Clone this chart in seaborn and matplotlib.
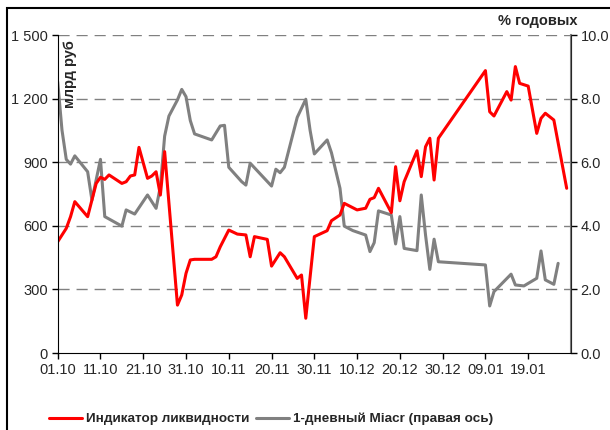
import pandas as pd
import seaborn as sns
import matplotlib.pyplot as plt
import matplotlib.dates as mdates
from matplotlib.ticker import FuncFormatter
from matplotlib.patches import Rectangle

start = pd.Timestamp("2008-10-01")

# liquidity indicator, bn rub (day offset from 01.10.2008)
liq_day = [0, 2, 3, 4, 7, 9, 10, 11, 12, 15, 16, 17, 18, 19, 21, 22, 23, 24, 25, 28,
           29, 30, 31, 32, 36, 37, 38, 40, 42, 44, 45, 46, 49, 50, 52, 53, 56, 57, 58, 60,
           63, 64, 66, 67, 70, 72, 73, 74, 75, 78, 79, 80, 81, 84, 85, 86, 87, 88, 89,
           100, 101, 102, 105, 106, 107, 108, 110, 112, 113, 114, 116, 119]
liq_val = [525, 588, 643, 714, 643, 800, 829, 819, 840, 800, 808, 835, 840, 970, 824, 835, 855, 745, 950, 226,
           274, 376, 439, 442, 442, 454, 501, 580, 561, 557, 454, 549, 536, 410, 473, 454, 352, 368, 164, 549,
           577, 624, 651, 706, 675, 683, 725, 733, 777, 662, 879, 718, 808, 954, 832, 973, 1013, 816, 1013,
           1332, 1138, 1118, 1233, 1193, 1351, 1272, 1259, 1036, 1107, 1131, 1099, 777]

# 1-day Miacr, % p.a.
miacr_day = [0, 1, 2, 3, 4, 7, 8, 10, 11, 15, 16, 18, 21, 23, 24, 25, 26, 28, 29, 30,
             31, 32, 36, 38, 39, 40, 43, 44, 45, 50, 51, 52, 53, 56, 58, 59, 60, 63, 64, 66,
             67, 69, 72, 73, 74, 75, 78, 79, 80, 81, 84, 85, 86, 87, 88, 89,
             100, 101, 102, 106, 107, 109, 112, 113, 114, 116, 117]
miacr_val = [8.53, 7.01, 6.09, 5.94, 6.20, 5.70, 4.81, 6.09, 4.29, 3.99, 4.50, 4.37, 4.97, 4.55, 5.23, 6.82, 7.45, 7.96, 8.29, 8.06,
             7.31, 6.89, 6.70, 7.14, 7.16, 5.84, 5.39, 5.28, 5.97, 5.25, 5.78, 5.67, 5.84, 7.41, 7.98, 7.01, 6.26, 6.70, 6.30, 5.18,
             3.99, 3.85, 3.71, 3.19, 3.47, 4.47, 4.34, 3.43, 4.29, 3.29, 3.22, 4.97, 3.71, 2.63, 3.58, 2.87,
             2.77, 1.48, 1.93, 2.48, 2.14, 2.11, 2.35, 3.21, 2.30, 2.16, 2.82]

liq = pd.DataFrame({"date": start + pd.to_timedelta(liq_day, unit="D"), "val": liq_val})
miacr = pd.DataFrame({"date": start + pd.to_timedelta(miacr_day, unit="D"), "val": miacr_val})

sns.set_style("white")
plt.rcParams["font.family"] = ["Liberation Sans", "DejaVu Sans"]
plt.rcParams["font.size"] = 10.5

fig = plt.figure(figsize=(6.1, 4.3), dpi=100)
ax = fig.add_axes([0.0946, 0.179, 0.8414, 0.7396])
ax2 = ax.twinx()

sns.lineplot(data=liq, x="date", y="val", ax=ax, color="#ff0000", lw=2.2,
             label="Индикатор ликвидности", legend=False)
sns.lineplot(data=miacr, x="date", y="val", ax=ax2, color="#808080", lw=2.2,
             label="1-дневный Miacr (правая ось)", legend=False)
ax.set_zorder(ax2.get_zorder() + 1)
ax.patch.set_visible(False)

ax.set_ylim(0, 1500)
ax.set_yticks(range(0, 1501, 300))
ax.yaxis.set_major_formatter(FuncFormatter(lambda v, p: f"{v:,.0f}".replace(",", " ")))
ax2.set_ylim(0, 10)
ax2.set_yticks(range(0, 11, 2))
ax2.yaxis.set_major_formatter(FuncFormatter(lambda v, p: f"{v:.1f}"))

ax.set_xlim(start, start + pd.Timedelta(days=120))
ax.set_xticks(pd.date_range(start, periods=12, freq="10D"))
ax.xaxis.set_major_formatter(mdates.DateFormatter("%d.%m"))
ax.set_xlabel("")
ax.set_ylabel("")
ax2.set_ylabel("")

for v in range(300, 1501, 300):
    ax.axhline(v, color="#808080", lw=1, dashes=(8, 5), zorder=0)

for a in (ax, ax2):
    a.spines["top"].set_visible(False)
    a.tick_params(direction="out", length=4, width=1, color="black", labelsize=10.5, pad=3)
ax.spines["left"].set_color("black")
ax.spines["bottom"].set_color("black")
ax2.spines["right"].set_color("#808080")
ax2.spines["right"].set_linewidth(1.5)
ax2.spines["left"].set_visible(False)
ax2.spines["bottom"].set_visible(False)
ax.tick_params(axis="y", left=True)
ax.tick_params(axis="x", bottom=True)
ax2.tick_params(axis="y", right=True)

fig.text(70 / 610, 1 - 40 / 430, "млрд руб", rotation=90, ha="center", va="top",
         fontweight="bold", fontsize=10.5)
fig.text(578 / 610, 1 - 21 / 430, "% годовых", ha="right", va="center",
         fontweight="bold", fontsize=10.5)

h1, l1 = ax.get_legend_handles_labels()
h2, l2 = ax2.get_legend_handles_labels()
fig.legend(h1 + h2, l1 + l2, loc="center", bbox_to_anchor=(271 / 610, 1 - 419 / 430),
           ncol=2, frameon=False, handlelength=2.45, handletextpad=0.3, columnspacing=0.5,
           prop={"weight": "bold", "size": 9.7})

fig.patches.append(Rectangle((7 / 610, -0.1), 1.2, 1 - 8 / 430 + 0.1, transform=fig.transFigure,
                             fill=False, edgecolor="black", lw=1.5))

fig.savefig("out.png", dpi=100)
